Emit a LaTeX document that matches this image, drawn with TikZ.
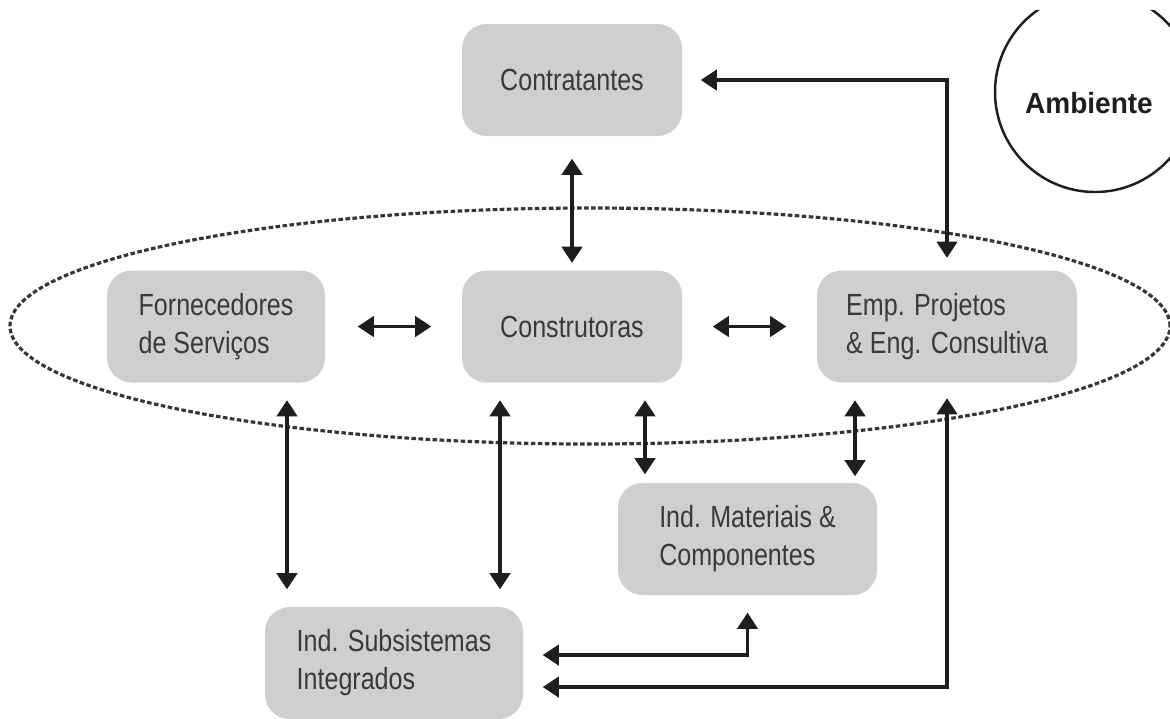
\documentclass[tikz,border=0pt]{standalone}
\usepackage{fontspec}
\setmainfont{Liberation Sans}[FakeStretch=0.82]
\newfontfamily\ambfont{Liberation Sans}[FakeStretch=0.96]
\usepackage{tikz}
\usetikzlibrary{positioning,arrows.meta,calc}
\definecolor{boxgray}{HTML}{CFCFCF}
\definecolor{txtgray}{HTML}{3A3A3A}
\definecolor{linegray}{HTML}{1E1E1E}

\begin{document}
\begin{tikzpicture}[
      box/.style={fill=boxgray, rounded corners=7pt, minimum height=1.12cm, align=left,
        text=txtgray, inner sep=0pt, font=\fontsize{8.7}{10.8}\selectfont},
      dbl/.style={{Triangle[width=5.8pt,length=4.6pt]}-{Triangle[width=5.8pt,length=4.6pt]},
        line width=0.95pt, draw=linegray}]
      \useasboundingbox (0,0) rectangle (11.7,-7.18);
      \draw[linegray!90, line width=0.9pt, dash pattern=on 1.3pt off 0.7pt] (5.9,-3.26) ellipse (5.8 and 1.18);
      \begin{scope}
        \clip (9.6,-0.1) rectangle (11.7,-2.2);
        \draw[linegray, line width=0.7pt] (10.95,-0.92) circle (1);
      \end{scope}
      \node (amb) at (10.89,-1.03) {\ambfont\bfseries\fontsize{8.3}{10}\selectfont\color{linegray}Ambiente};
      \node[box, minimum width=2.2cm] (contr) at (5.72,-0.80) {Contratantes};
      \node[box, minimum width=2.18cm] (forn) at (2.16,-3.265) {Fornecedores\\de Serviços};
      \node[box, minimum width=2.2cm] (constr) at (5.72,-3.265) {Construtoras};
      \node[box, minimum width=2.6cm] (emp) at (9.47,-3.265) {Emp. Projetos\\\& Eng. Consultiva};
      \node[box, minimum width=2.59cm] (mat) at (7.475,-5.39) {Ind. Materiais \&\\Componentes};
      \node[box, minimum width=2.58cm] (subs) at (3.94,-6.63) {Ind. Subsistemas\\Integrados};
      \coordinate (f1) at ([xshift=7.1mm]forn.south);
      \coordinate (c1) at ([xshift=-7.2mm]constr.south);
      \coordinate (c2) at ([xshift=7.3mm]constr.south);
      \coordinate (e1) at ([xshift=-9.2mm]emp.south);
      \coordinate (s1) at ([yshift=0.8mm]subs.east);
      \coordinate (s2) at ([yshift=-2.4mm]subs.east);
      \draw[dbl, shorten <=2.2mm, shorten >=0.7mm] (contr) -- (constr);
      \draw[dbl, shorten <=3.2mm, shorten >=3mm] (forn) -- (constr);
      \draw[dbl, shorten <=3mm, shorten >=3mm] (constr) -- (emp);
      \draw[dbl, shorten <=1.8mm, shorten >=1.2mm] (contr.east) -| (emp.north);
      \draw[dbl, shorten <=1.7mm, shorten >=1.7mm] (f1) -- (f1 |- subs.north);
      \draw[dbl, shorten <=1.7mm, shorten >=1.7mm] (c1) -- (c1 |- subs.north);
      \draw[dbl, shorten <=1.7mm, shorten >=0.8mm] (c2) -- (c2 |- mat.north);
      \draw[dbl, shorten <=1.7mm, shorten >=0.6mm] (e1) -- (e1 |- mat.north);
      \draw[dbl, shorten <=1.9mm, shorten >=1.7mm] (s1) -| (mat.south);
      \draw[dbl, shorten <=1.9mm, shorten >=1.5mm] (s2) -| (emp.south);
    \end{tikzpicture}
\end{document}
